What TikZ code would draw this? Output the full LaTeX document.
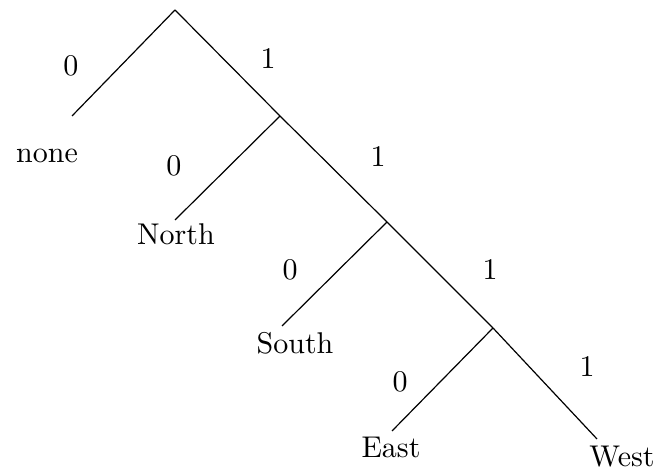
\documentclass[tikz,border=0pt]{standalone}
\begin{document}
\begin{tikzpicture}[x=0.3333pt,y=-0.3333pt,
  edge/.style={draw=black,line width=0.4pt},
  leaf/.style={anchor=base,inner sep=0pt,font=\normalsize},
  lbl/.style={anchor=center,inner sep=0pt}]
\useasboundingbox (0,0) rectangle (662,475);
% branch points
\coordinate (r) at (175,10);
\coordinate (n1) at (280,116);
\coordinate (n2) at (387,222);
\coordinate (n3) at (493,328);
% leaf edge ends
\coordinate (eNone) at (72,116);
\coordinate (eNorth) at (175,220);
\coordinate (eSouth) at (282,326);
\coordinate (eEast) at (392,431);
\coordinate (eWest) at (597,439);
% leaf texts
\node[leaf] (none) at (47,163) {none};
\node[leaf] (north) at (176,245) {North};
\node[leaf] (south) at (295,354) {South};
\node[leaf] (east) at (391,458) {East};
\node[leaf] (west) at (622,467) {West};
% edges
\draw[edge] (r) -- (eNone);
\draw[edge] (r) -- (n1);
\draw[edge] (n1) -- (eNorth);
\draw[edge] (n1) -- (n2);
\draw[edge] (n2) -- (eSouth);
\draw[edge] (n2) -- (n3);
\draw[edge] (n3) -- (eEast);
\draw[edge] (n3) -- (eWest);
% edge labels
\node[lbl] (l0a) at (71,66) {0};
\node[lbl] (l1a) at (268,59) {1};
\node[lbl] (l0b) at (174,166) {0};
\node[lbl] (l1b) at (378,157) {1};
\node[lbl] (l0c) at (290,270) {0};
\node[lbl] (l1c) at (490,270) {1};
\node[lbl] (l0d) at (400,382) {0};
\node[lbl] (l1d) at (587,367) {1};
\end{tikzpicture}
\end{document}
